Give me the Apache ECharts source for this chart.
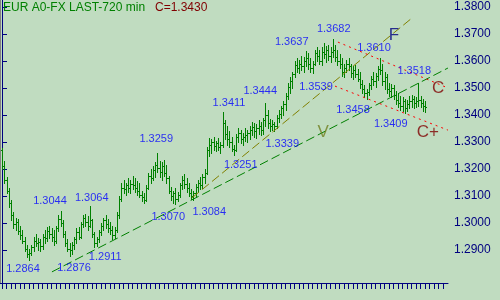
<!DOCTYPE html>
<html><head><meta charset="utf-8">
<script src="https://cdn.jsdelivr.net/npm/echarts@6/dist/echarts.min.js"></script>
<style>html,body{margin:0;padding:0;background:#c0dcc0;}#c{width:500px;height:300px;}</style>
</head><body><div id="c"></div>
<script>
// ---- data ----
const opens = [
1.3270,1.3210,1.3160,1.3120,1.3075,1.3030,1.2995,1.3005,1.2970,1.2955,
1.2935,1.2905,1.2885,1.2890,1.2910,1.2935,1.2925,1.2930,1.2915,1.2950,
1.2945,1.2970,1.2960,1.2950,1.2935,1.2980,1.3015,1.3000,1.2960,1.2925,
1.2905,1.2900,1.2920,1.2940,1.2965,1.2950,1.2995,1.3020,1.3005,1.2990,
1.3010,1.2960,1.2925,1.2940,1.2965,1.2990,1.3010,1.2995,1.2980,1.2975,
1.2955,1.2975,1.3030,1.3090,1.3130,1.3125,1.3140,1.3130,1.3145,1.3140,
1.3130,1.3120,1.3105,1.3095,1.3085,1.3130,1.3175,1.3165,1.3195,1.3215,
1.3205,1.3190,1.3210,1.3185,1.3165,1.3120,1.3100,1.3110,1.3090,1.3105,
1.3140,1.3160,1.3145,1.3130,1.3110,1.3100,1.3110,1.3135,1.3150,1.3140,
1.3170,1.3185,1.3270,1.3290,1.3300,1.3285,1.3295,1.3280,1.3290,1.3370,
1.3330,1.3310,1.3300,1.3275,1.3270,1.3320,1.3335,1.3310,1.3320,1.3325,
1.3335,1.3345,1.3355,1.3340,1.3350,1.3360,1.3345,1.3380,1.3400,1.3370,
1.3360,1.3365,1.3360,1.3390,1.3405,1.3425,1.3440,1.3470,1.3505,1.3525,
1.3550,1.3585,1.3575,1.3590,1.3580,1.3600,1.3610,1.3590,1.3575,1.3590,
1.3630,1.3620,1.3600,1.3635,1.3625,1.3640,1.3620,1.3635,1.3640,1.3615,
1.3600,1.3590,1.3560,1.3575,1.3590,1.3580,1.3555,1.3565,1.3550,1.3535,
1.3515,1.3495,1.3480,1.3485,1.3510,1.3535,1.3525,1.3545,1.3570,1.3565,
1.3525,1.3540,1.3495,1.3490,1.3500,1.3475,1.3455,1.3445,1.3435,1.3450,
1.3425,1.3440,1.3450,1.3460,1.3445,1.3450,1.3455,1.3445,1.3435
];
const highs = [
1.3278,1.3230,1.3170,1.3130,1.3085,1.3040,1.3020,1.3015,1.2990,1.2975,
1.2950,1.2920,1.2905,1.2920,1.2950,1.2960,1.2945,1.2940,1.2960,1.2975,
1.2985,1.2990,1.2980,1.2975,1.2990,1.3030,1.3044,1.3010,1.2970,1.2940,
1.2925,1.2930,1.2950,1.2980,1.2985,1.3005,1.3030,1.3035,1.3025,1.3064,
1.3015,1.2965,1.2950,1.2975,1.3000,1.3020,1.3030,1.3015,1.3005,1.2990,
1.2985,1.3040,1.3100,1.3150,1.3160,1.3150,1.3165,1.3160,1.3175,1.3165,
1.3155,1.3150,1.3120,1.3110,1.3140,1.3185,1.3200,1.3210,1.3225,1.3259,
1.3230,1.3225,1.3235,1.3215,1.3175,1.3135,1.3120,1.3130,1.3115,1.3150,
1.3175,1.3180,1.3165,1.3150,1.3125,1.3120,1.3145,1.3160,1.3170,1.3180,
1.3200,1.3280,1.3315,1.3310,1.3320,1.3305,1.3315,1.3300,1.3411,1.3380,
1.3360,1.3340,1.3320,1.3290,1.3330,1.3350,1.3345,1.3335,1.3350,1.3345,
1.3360,1.3375,1.3370,1.3365,1.3380,1.3375,1.3390,1.3444,1.3420,1.3385,
1.3380,1.3375,1.3400,1.3420,1.3435,1.3450,1.3480,1.3520,1.3540,1.3560,
1.3600,1.3610,1.3605,1.3620,1.3615,1.3637,1.3630,1.3610,1.3600,1.3640,
1.3650,1.3640,1.3650,1.3665,1.3655,1.3660,1.3650,1.3682,1.3660,1.3640,
1.3625,1.3610,1.3590,1.3605,1.3610,1.3590,1.3580,1.3585,1.3570,1.3560,
1.3530,1.3510,1.3495,1.3520,1.3545,1.3560,1.3555,1.3580,1.3610,1.3590,
1.3560,1.3550,1.3520,1.3515,1.3510,1.3490,1.3480,1.3470,1.3465,1.3460,
1.3455,1.3470,1.3475,1.3470,1.3465,1.3518,1.3470,1.3460,1.3450
];
const lows = [
1.3200,1.3150,1.3110,1.3060,1.3010,1.2980,1.2975,1.2960,1.2940,1.2925,
1.2895,1.2875,1.2864,1.2880,1.2895,1.2915,1.2900,1.2895,1.2905,1.2925,
1.2935,1.2945,1.2935,1.2920,1.2925,1.2970,1.2990,1.2950,1.2915,1.2895,
1.2876,1.2885,1.2905,1.2925,1.2940,1.2945,1.2985,1.2990,1.2975,1.2985,
1.2950,1.2911,1.2915,1.2930,1.2955,1.2975,1.2980,1.2965,1.2960,1.2940,
1.2944,1.2965,1.3020,1.3080,1.3110,1.3105,1.3115,1.3110,1.3125,1.3115,
1.3105,1.3095,1.3080,1.3075,1.3080,1.3125,1.3150,1.3160,1.3170,1.3190,
1.3170,1.3160,1.3175,1.3150,1.3110,1.3085,1.3075,1.3070,1.3080,1.3095,
1.3125,1.3130,1.3115,1.3100,1.3090,1.3084,1.3100,1.3115,1.3125,1.3130,
1.3150,1.3180,1.3250,1.3260,1.3270,1.3265,1.3270,1.3260,1.3280,1.3310,
1.3290,1.3280,1.3265,1.3251,1.3265,1.3300,1.3295,1.3290,1.3305,1.3300,
1.3310,1.3325,1.3320,1.3315,1.3330,1.3325,1.3330,1.3360,1.3350,1.3340,
1.3345,1.3339,1.3350,1.3375,1.3390,1.3400,1.3420,1.3460,1.3480,1.3500,
1.3540,1.3560,1.3555,1.3565,1.3560,1.3580,1.3570,1.3560,1.3555,1.3585,
1.3600,1.3590,1.3585,1.3610,1.3595,1.3605,1.3595,1.3615,1.3600,1.3585,
1.3575,1.3545,1.3539,1.3560,1.3565,1.3540,1.3535,1.3540,1.3525,1.3500,
1.3480,1.3465,1.3458,1.3475,1.3495,1.3510,1.3505,1.3530,1.3550,1.3510,
1.3495,1.3480,1.3470,1.3465,1.3460,1.3440,1.3430,1.3420,1.3415,1.3409,
1.3415,1.3425,1.3430,1.3425,1.3430,1.3435,1.3430,1.3415,1.3410
];
const closes = [
1.3210,1.3160,1.3120,1.3075,1.3030,1.2995,1.3005,1.2970,1.2955,1.2935,
1.2905,1.2885,1.2890,1.2910,1.2935,1.2925,1.2930,1.2915,1.2950,1.2945,
1.2970,1.2960,1.2950,1.2935,1.2980,1.3015,1.3000,1.2960,1.2925,1.2905,
1.2900,1.2920,1.2940,1.2965,1.2950,1.2995,1.3020,1.3005,1.2990,1.3010,
1.2960,1.2925,1.2940,1.2965,1.2990,1.3010,1.2995,1.2980,1.2975,1.2955,
1.2975,1.3030,1.3090,1.3130,1.3125,1.3140,1.3130,1.3145,1.3140,1.3130,
1.3120,1.3105,1.3095,1.3085,1.3130,1.3175,1.3165,1.3195,1.3215,1.3205,
1.3190,1.3210,1.3185,1.3165,1.3120,1.3100,1.3110,1.3090,1.3105,1.3140,
1.3160,1.3145,1.3130,1.3110,1.3100,1.3110,1.3135,1.3150,1.3140,1.3170,
1.3185,1.3270,1.3290,1.3300,1.3285,1.3295,1.3280,1.3290,1.3370,1.3330,
1.3310,1.3300,1.3275,1.3270,1.3320,1.3335,1.3310,1.3320,1.3325,1.3335,
1.3345,1.3355,1.3340,1.3350,1.3360,1.3345,1.3380,1.3400,1.3370,1.3360,
1.3365,1.3360,1.3390,1.3405,1.3425,1.3440,1.3470,1.3505,1.3525,1.3550,
1.3585,1.3575,1.3590,1.3580,1.3600,1.3610,1.3590,1.3575,1.3590,1.3630,
1.3620,1.3600,1.3635,1.3625,1.3640,1.3620,1.3635,1.3640,1.3615,1.3600,
1.3590,1.3560,1.3575,1.3590,1.3580,1.3555,1.3565,1.3550,1.3535,1.3515,
1.3495,1.3480,1.3485,1.3510,1.3535,1.3525,1.3545,1.3570,1.3565,1.3525,
1.3540,1.3495,1.3490,1.3500,1.3475,1.3455,1.3445,1.3435,1.3450,1.3425,
1.3440,1.3450,1.3460,1.3445,1.3450,1.3455,1.3445,1.3435,1.3430
];
const yTicks = [1.29,1.30,1.31,1.32,1.33,1.34,1.35,1.36,1.37,1.38];
// annotated extremes: bar index and value
const labelBars   = [12, 30, 41, 26, 39, 69, 77, 85, 103, 98, 117, 121, 135, 147, 168, 152, 185, 162, 179];
const labelValues = [1.2864,1.2876,1.2911,1.3044,1.3064,1.3259,1.3070,1.3084,1.3251,1.3411,1.3444,1.3339,1.3637,1.3682,1.3610,1.3539,1.3518,1.3458,1.3409];
// trend lines [barIndex, price]
const lineV = [[22.2, 1.2819], [198.2, 1.3574]];
const lineF = [[84.4, 1.3093], [182.2, 1.3759]];
const lineCupper = [[149.3, 1.3670], [198.2, 1.3500]];
const lineClower = [[148.0, 1.3507], [198.2, 1.3344]];
const letterTexts = ['F', 'V', 'C', 'C+'];
const letterPos = [[174.2, 1.3696], [142.7, 1.3337], [193.8, 1.3500], [189.3, 1.3337]];
const titleText = 'EUR A0-FX LAST-720 min';

// ---- layout / style ----
const labelOffsets = [[-6,9],[4.5,11.5],[11,10],[-10.5,-10],[2,-8],[-1,-14],[-7,13],[16,12],[7,10],[6.5,-9],[-5,-12],[8,12.5],[-14,-9],[1,-10],[-6,-10],[-28,9.5],[-4,-12],[-13.5,11],[-14,11.5]];
const letterColors = ['#000080', '#708020', '#800000', '#800000'];
const FONT = '"Liberation Sans", Arial, sans-serif';

const ohlc = opens.map((o, i) => [i, o, highs[i], lows[i], closes[i]]);
const xTickVals = [];
for (let k = 0; k <= 196; k += 2) xTickVals.push(k);

function renderBar(params, api) {
  const i = api.value(0);
  const po = api.coord([i, api.value(1)]);
  const ph = api.coord([i, api.value(2)]);
  const pl = api.coord([i, api.value(3)]);
  const pc = api.coord([i, api.value(4)]);
  const X = Math.round(ph[0]);
  const st = {stroke: '#008000', lineWidth: 1};
  return {type: 'group', children: [
    {type: 'line', shape: {x1: X + 0.5, y1: Math.round(ph[1]), x2: X + 0.5, y2: Math.round(pl[1]) + 1}, style: st},
    {type: 'line', shape: {x1: X - 1, y1: Math.round(po[1]) + 0.5, x2: X, y2: Math.round(po[1]) + 0.5}, style: st},
    {type: 'line', shape: {x1: X + 1, y1: Math.round(pc[1]) + 0.5, x2: X + 2, y2: Math.round(pc[1]) + 0.5}, style: st}
  ]};
}

function trend(data, color, dash) {
  return {type: 'line', data: data, showSymbol: false, symbol: 'none', silent: true, z: 3,
    lineStyle: {color: color, width: 1, type: dash}};
}

const chart = echarts.init(document.getElementById('c'), null, {renderer: 'canvas'});
chart.setOption({
  backgroundColor: '#c0dcc0',
  animation: false,
  title: [
    {text: titleText, left: 3, top: 2, padding: 0,
      textStyle: {color: '#008000', fontSize: 12, fontWeight: 'normal', fontFamily: FONT}},
    {text: 'C=' + closes[closes.length - 1].toFixed(4), left: 155, top: 2, padding: 0,
      textStyle: {color: '#800000', fontSize: 12, fontWeight: 'normal', fontFamily: FONT}}
  ],
  grid: {left: 0, right: 52, top: 0, bottom: 17},
  xAxis: {
    type: 'value', min: -0.889, max: 198.22,
    axisLine: {show: true, lineStyle: {color: '#000080', width: 1}},
    axisTick: {show: true, length: 6, customValues: xTickVals, lineStyle: {color: '#000080', width: 1}},
    axisLabel: {show: false},
    splitLine: {show: false}
  },
  yAxis: {
    type: 'value', position: 'right', min: 1.27778, max: 1.38259,
    axisLine: {show: true, lineStyle: {color: '#000080', width: 1}},
    axisTick: {show: true, length: 5, customValues: yTicks, lineStyle: {color: '#000080', width: 1}},
    axisLabel: {show: true, customValues: yTicks, margin: 6, color: '#000080', fontSize: 12, fontFamily: FONT,
      formatter: v => v.toFixed(4)},
    splitLine: {show: false}
  },
  graphic: [
    {type: 'line', shape: {x1: 0.5, y1: 0, x2: 0.5, y2: 283}, style: {stroke: '#808080', lineWidth: 1}, silent: true}
  ],
  series: [
    {type: 'custom', renderItem: renderBar, data: ohlc, encode: {x: 0, y: [1, 2, 3, 4]}, z: 2, silent: true},
    trend(lineV, '#008000', [9, 4]),
    trend(lineF, '#808000', [9, 4]),
    trend(lineCupper, '#ff0000', [2, 4]),
    trend(lineClower, '#ff0000', [2, 4]),
    {type: 'scatter', symbolSize: 0, silent: true, z: 5,
      data: labelBars.map((b, k) => ({value: [b, labelValues[k]],
        label: {show: true, position: 'inside', offset: labelOffsets[k], formatter: labelValues[k].toFixed(4),
          color: '#0000ff', fontSize: 11, fontFamily: FONT}}))},
    {type: 'scatter', symbolSize: 0, silent: true, z: 5,
      data: letterTexts.map((t, k) => ({value: letterPos[k],
        label: {show: true, position: 'inside', formatter: t,
          color: letterColors[k], fontSize: 17, fontFamily: FONT}}))}
  ]
});
</script>
</body></html>
